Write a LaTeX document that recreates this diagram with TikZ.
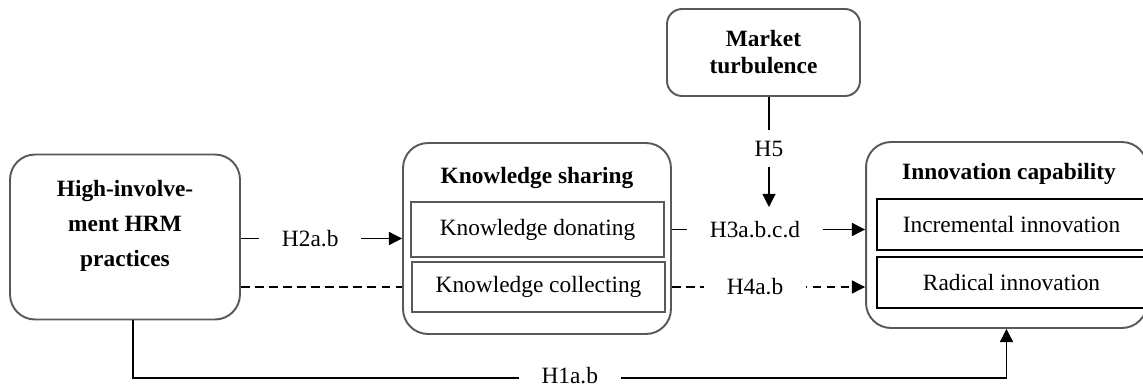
\documentclass[tikz,border=0pt]{standalone}
\usepackage{fontspec}
\setmainfont{Liberation Serif}
\usetikzlibrary{arrows.meta, positioning}
\definecolor{boxgray}{RGB}{89,89,89}

\begin{document}
\begin{tikzpicture}[x=0.02cm, y=-0.02cm, >={Triangle[length=7.5pt,width=7.5pt]},
    font=\fontsize{13.3}{16}\selectfont,
    outer/.style={draw=boxgray, line width=1.1pt, rounded corners=0.5cm},
    inbox/.style={draw=boxgray, line width=0.8pt, minimum width=5.06cm},
    icbox/.style={draw=black, line width=1.1pt, minimum width=5.38cm, minimum height=1.02cm},
    title/.style={font=\fontsize{13.3}{20}\selectfont\bfseries, align=center},
    link/.style={line width=0.6pt},
    lbl/.style={fill=white, inner xsep=0.46cm, inner ysep=0.22cm, pos=0.43}]
    \useasboundingbox (0,0) rectangle (1143,389);
    \clip (0,0) rectangle (1143,389);

    \node[outer, minimum width=4.6cm, minimum height=3.3cm] (hrm) at (125,237) {};
    \node[title] (hrmtext) at (125,226) {High-involve-\\ment HRM\\practices};

    \node[outer, minimum width=5.36cm, minimum height=3.82cm] (ks) at (537,238.5) {};
    \node[title] (kstitle) at (537,178) {Knowledge sharing};
    \node[inbox, minimum height=1.1cm] (don) at (537.5,229.5) {Knowledge donating};
    \node[inbox, minimum height=1.0cm] (col) at (538.5,287) {Knowledge collecting};

    \node[outer, rounded corners=0.3cm, minimum width=3.86cm, minimum height=1.74cm,
        align=center, font=\fontsize{13.3}{15.4}\selectfont\bfseries] (mt) at (763.5,52.5) {Market\\turbulence};

    \node[outer, minimum width=5.62cm, minimum height=3.72cm] (ic) at (1006.5,235) {};
    \node[title] (ictitle) at (1009,174) {Innovation capability};
    \node[icbox] (inc) at (1011.5,224.5) {Incremental innovation};
    \node[icbox] (rad) at (1011.5,282.5) {Radical innovation};

    \draw[link, ->] (hrm.east |- ks) -- node[lbl] {H2a.b} (ks.west);
    \draw[link, dash pattern=on 5pt off 3pt] (hrm.east |- col) -- (ks.west |- col);
    \draw[link, ->] (ks.east |- don) -- node[lbl] {H3a.b.c.d} (ic.west |- don);
    \draw[link, dash pattern=on 5pt off 3pt, ->] (ks.east |- col) -- node[lbl] {H4a.b} (ic.west |- col);

    \coordinate (h5tip) at (769,207);
    \draw[link, ->] (mt.south -| h5tip) -- node[lbl, pos=0.47] {H5} (h5tip);

    \coordinate (h1a) at (133,378);
    \coordinate (h1b) at (ic.south |- h1a);
    \draw[link, ->] (h1a |- hrm.south) -- (h1a) -- node[lbl, midway, inner ysep=0pt, yshift=0.04cm] {H1a.b} (h1b) -- (ic.south);
\end{tikzpicture}
\end{document}
